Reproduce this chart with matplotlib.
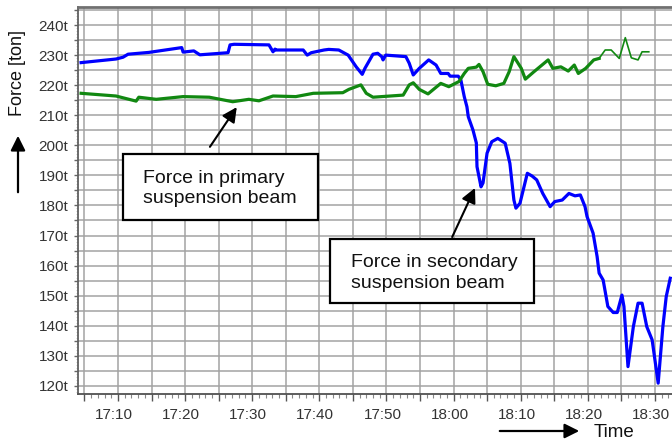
import matplotlib
matplotlib.use('Agg')
import matplotlib.pyplot as plt
from matplotlib.patches import Rectangle, FancyArrowPatch
from matplotlib.transforms import ScaledTranslation
import numpy as np

plt.rcParams['font.family'] = ['Liberation Sans', 'DejaVu Sans']

# ---------------- data (time = minutes after 17:00, force in ton) ----------------
secondary_t = [4.5, 9.7, 10.75, 11.5, 14.6, 19.5, 19.7, 21.3, 22.2, 26.4, 26.7, 27.3, 32.5, 33.1,
               33.4, 33.5, 37.6, 38.2, 38.8, 40.7, 41.4, 42.9, 44.3, 45.5, 46.4, 46.8, 48.0, 48.7,
               49.3, 49.5, 49.9, 52.9, 53.4, 54.0, 54.9, 56.3, 57.4, 58.1, 59.2, 59.5, 60.7, 61.1,
               61.6, 62.0, 62.2, 62.9, 63.4, 63.5, 64.1, 64.4, 65.0, 65.7, 66.6, 67.7, 68.4, 69.0,
               69.3, 69.9, 71.0, 71.7, 72.4, 73.3, 74.4, 75.1, 76.2, 77.2, 78.1, 78.9, 79.6, 79.9,
               80.8, 81.4, 81.7, 82.3, 83.0, 83.8, 84.4, 85.1, 85.4, 85.6, 86.0, 86.8, 87.5, 88.1,
               88.8, 89.6, 90.5, 91.2, 91.7, 92.3]
secondary_v = [227.5, 228.7, 229.3, 230.3, 230.9, 232.5, 231.0, 231.4, 230.1, 230.8, 233.4, 233.6, 233.4, 231.1,
               232.0, 231.7, 231.7, 230.0, 230.8, 231.7, 231.9, 231.7, 230.0, 226.1, 223.6, 225.6, 230.3, 230.6,
               229.5, 228.4, 230.0, 229.5, 227.3, 223.4, 225.6, 228.4, 226.7, 223.9, 223.9, 223.0, 223.0, 221.7,
               216.2, 212.8, 209.5, 205.1, 200.8, 192.9, 186.2, 187.5, 197.4, 201.2, 202.3, 200.7, 194.0, 181.8,
               179.1, 180.7, 190.7, 189.8, 188.5, 184.0, 179.6, 181.3, 181.8, 184.0, 183.2, 183.5, 179.6, 176.3,
               170.8, 163.0, 157.5, 155.2, 146.4, 144.4, 144.4, 150.2, 146.4, 139.7, 126.4, 139.7, 147.5, 147.5,
               139.7, 135.3, 120.9, 139.7, 149.7, 155.8]

primary_t = [4.5, 9.7, 12.7, 13.1, 15.7, 19.7, 23.6, 27.1, 29.5, 31.0, 33.1, 36.5, 39.1, 43.5, 44.4,
             46.2, 47.0, 48.0, 52.5, 53.4, 54.0, 54.9, 56.2, 58.1, 59.3, 60.8, 61.6, 62.2, 63.4, 63.8,
             64.4, 65.1, 66.3, 67.5, 68.3, 69.0, 70.1, 70.7, 72.0, 74.1, 74.8, 76.0, 77.1, 78.0, 78.6,
             79.7, 80.9, 81.7, 82.6, 83.5, 84.7, 85.6, 86.5, 87.5, 88.1, 89.1]
primary_v = [217.3, 216.4, 214.7, 216.0, 215.3, 216.2, 216.0, 214.5, 215.3, 214.8, 216.4, 216.2, 217.3, 217.5, 218.6,
             220.1, 217.3, 216.0, 216.7, 220.1, 220.8, 218.6, 217.1, 220.6, 219.5, 221.2, 223.9, 225.6, 226.0, 226.9,
             224.5, 220.3, 219.8, 220.6, 224.5, 229.5, 225.6, 222.0, 224.5, 228.4, 225.6, 226.1, 224.7, 226.7, 223.9,
             225.6, 228.4, 228.9, 231.7, 231.7, 228.9, 235.8, 229.1, 228.4, 231.1, 231.1]
primary_thin_from = 81.7   # logger switches to a thinner trace here

x_tick_pos = [10, 20, 30, 40, 50, 60, 70, 80, 90]
x_tick_labels = ['17:10', '17:20', '17:30', '17:40', '17:50', '18:00', '18:10', '18:20', '18:30']
y_tick_pos = list(range(120, 241, 10))
y_tick_labels = [f'{v}t' for v in y_tick_pos]

# ---------------- layout ----------------
W, H = 672, 444
def fx(px):
    return px / W
def fy(py):
    return 1 - py / H

fig = plt.figure(figsize=(W / 100, H / 100), dpi=100)
ax = fig.add_axes([fx(78), fy(394), fx(W - 78), (394 - 7) / H])
ax.set_xlim(4.04, 92.56)
ax.set_ylim(117.3, 246.0)

# grid every 5 units, labels every 10
ax.set_xticks(np.arange(5, 92, 5))
ax.set_xticklabels([x_tick_labels[x_tick_pos.index(t)] if t in x_tick_pos else '' for t in np.arange(5, 92, 5)])
ax.set_yticks(np.arange(120, 246, 5))
ax.set_yticklabels([y_tick_labels[y_tick_pos.index(v)] if v in y_tick_pos else '' for v in np.arange(120, 246, 5)])
ax.set_xticks(np.arange(5, 93, 1), minor=True)
ax.set_yticks(np.arange(118, 246, 1), minor=True)
ax.grid(True, which='major', color='#a3a3a3', lw=1.1)
ax.set_axisbelow(True)
ax.tick_params(axis='x', which='major', length=5, width=1, color='#555555', labelsize=11,
               labelcolor='#333333', pad=5)
ax.tick_params(axis='x', which='minor', length=3, width=0.8, color='#888888')
ax.tick_params(axis='y', which='major', length=3, width=1, color='#666666', labelsize=11,
               labelcolor='#333333', pad=4)
ax.tick_params(axis='y', which='minor', length=1.5, width=0.5, color='#b0b0b0')
for lab in ax.get_xticklabels():
    lab.set_transform(lab.get_transform() + ScaledTranslation(-4 / 100, 0, fig.dpi_scale_trans))

ax.spines['right'].set_visible(False)
ax.spines['top'].set_color('#707070')
ax.spines['top'].set_linewidth(2)
ax.spines['left'].set_color('#606060')
ax.spines['left'].set_linewidth(1.3)
ax.spines['bottom'].set_color('#505050')
ax.spines['bottom'].set_linewidth(1.3)

# ---------------- series ----------------
ax.plot(secondary_t, secondary_v, color='#0000ff', lw=2.3, solid_joinstyle='round', zorder=3)
k = primary_t.index(primary_thin_from)
ax.plot(primary_t[:k + 1], primary_v[:k + 1], color='#118811', lw=2.3, solid_joinstyle='round', zorder=4)
ax.plot(primary_t[k:], primary_v[k:], color='#118811', lw=1.2, zorder=4)

# ---------------- annotations ----------------
ax.annotate('', xy=(27.7, 212.7), xytext=(23.7, 199.5),
            arrowprops=dict(arrowstyle='-|>', color='black', lw=1.5, mutation_scale=22,
                            shrinkA=0, shrinkB=0), zorder=6)
ax.annotate('', xy=(63.2, 185.8), xytext=(59.8, 169.5),
            arrowprops=dict(arrowstyle='-|>', color='black', lw=1.5, mutation_scale=22,
                            shrinkA=0, shrinkB=0), zorder=6)

def textbox(x0, y0, x1, y1, tx, ty, txt):
    fig.patches.append(Rectangle((fx(x0), fy(y1)), fx(x1 - x0), (y1 - y0) / H,
                                 transform=fig.transFigure, facecolor='white',
                                 edgecolor='black', lw=1.6, zorder=10))
    fig.text(fx(tx), fy(ty), txt, fontsize=14, ha='left', va='center',
             linespacing=1.3, color='#111111', zorder=11)

textbox(123, 154, 318, 220, 143, 188.5, 'Force in primary\nsuspension beam')
textbox(330, 239, 534, 303, 351, 273, 'Force in secondary\nsuspension beam')

# axis titles with arrows
fig.text(fx(18), fy(73), 'Force [ton]', rotation=90, fontsize=13, ha='center', va='center',
         color='#111111')
fig.patches.append(FancyArrowPatch((fx(18), fy(195)), (fx(18), fy(133)), transform=fig.transFigure,
                                   arrowstyle='-|>', mutation_scale=22, color='black', lw=1.6))
fig.text(fx(614), fy(432), 'Time', fontsize=13.5, ha='center', va='center', color='#111111')
fig.patches.append(FancyArrowPatch((fx(497), fy(431)), (fx(582), fy(431)), transform=fig.transFigure,
                                   arrowstyle='-|>', mutation_scale=22, color='black', lw=1.6))

fig.savefig('out.png', dpi=100, facecolor='white')
